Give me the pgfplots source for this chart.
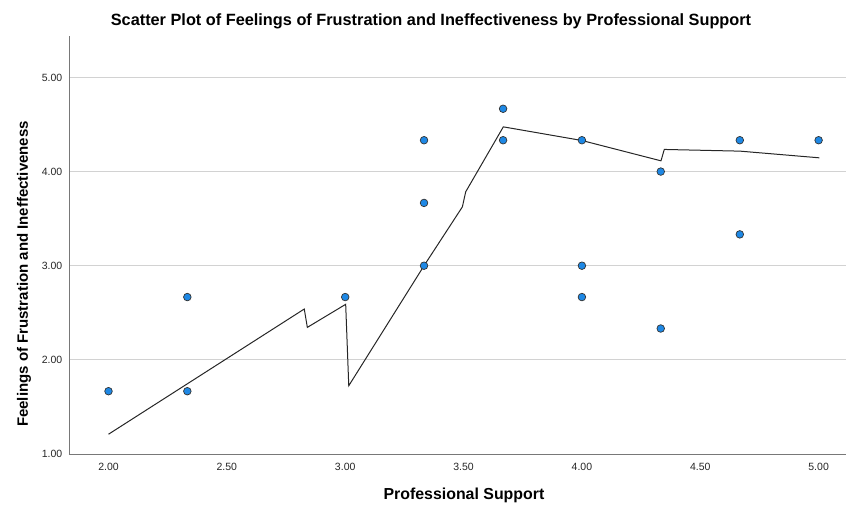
\documentclass[border=0pt]{standalone}
\usepackage{pgfplots}
\pgfplotsset{compat=1.18}
\usepackage{fontspec}
\setmainfont{Liberation Sans}
\definecolor{ptblue}{RGB}{30,136,229}
\definecolor{gridgray}{RGB}{210,210,210}
\definecolor{axgray}{RGB}{120,120,120}
\begin{document}
\begin{tikzpicture}[x=1pt,y=1pt]
\path[use as bounding box] (0,0) rectangle (846,504);
\begin{axis}[
  at={(69pt,50pt)}, anchor=south west,
  scale only axis, width=777pt, height=418pt,
  xmin=1.8331, xmax=5.1157, ymin=1, ymax=5.44,
  axis x line=bottom, axis y line=left,
  axis line style={axgray, -},
  xtick={2,2.5,3,3.5,4,4.5,5},
  ytick={1,2,3,4,5},
  xticklabels={2.00,2.50,3.00,3.50,4.00,4.50,5.00},
  yticklabels={1.00,2.00,3.00,4.00,5.00},
  tick style={draw=none},
  ymajorgrids, grid style={gridgray, line width=0.9pt},
  tick label style={font=\fontsize{10.5}{12}\selectfont, text=black!85},
  xticklabel style={yshift=-3pt},
  yticklabel style={xshift=-1pt},
  xlabel={Professional Support},
  ylabel={Feelings of Frustration and Ineffectiveness},
  xlabel style={font=\bfseries\fontsize{15.9}{17}\selectfont, at={(axis description cs:0.5083,0)}, anchor=center, yshift=-41pt},
  ylabel style={font=\bfseries\fontsize{15}{17}\selectfont, at={(axis description cs:-0.0579,0.4306)}, anchor=center},
  title={Scatter Plot of Feelings of Frustration and Ineffectiveness by Professional Support},
  title style={font=\bfseries\fontsize{16.3}{18}\selectfont, at={(axis description cs:0.4659,1)}, anchor=center, yshift=9pt},
  clip=false,
]
\addplot[black!85, line width=1pt] coordinates {
(2.000,1.210) (2.827,2.540) (2.840,2.345) (3.002,2.590) (3.015,1.725)
(3.333,3.000) (3.495,3.625) (3.509,3.785) (3.668,4.475) (4.000,4.330)
(4.334,4.114) (4.348,4.235) (4.668,4.217) (5.003,4.146)
};
\addplot[only marks, mark=*, mark size=3.8pt, mark options={fill=ptblue, draw=black!80, line width=0.7pt}] coordinates {
(2.000,1.667)
(2.333,2.667) (2.333,1.667)
(3.000,2.667)
(3.333,4.333) (3.333,3.667) (3.333,3.000)
(3.667,4.667) (3.667,4.333)
(4.000,4.333) (4.000,3.000) (4.000,2.667)
(4.333,4.000) (4.333,2.333)
(4.667,4.333) (4.667,3.333)
(5.000,4.333)
};
\end{axis}
\end{tikzpicture}
\end{document}
